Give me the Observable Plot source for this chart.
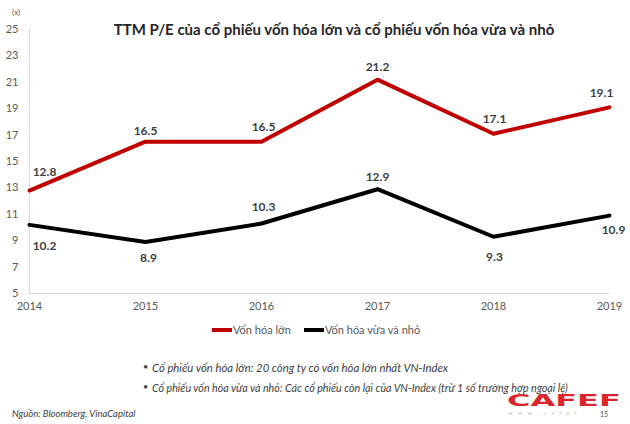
<!DOCTYPE html>
<html>
<head>
<meta charset="utf-8">
<script src="https://cdn.jsdelivr.net/npm/d3@7"></script>
<script src="https://cdn.jsdelivr.net/npm/@observablehq/plot@0.6"></script>
<style>
  html, body { margin: 0; padding: 0; background: #fff; }
  #wrap { position: relative; width: 630px; height: 424px; overflow: hidden; font-family: Lato, "Open Sans", sans-serif; }
  #chart { position: absolute; left: 0; top: 0; }
  .abs { position: absolute; white-space: nowrap; }
  #title { left: 0; width: 668px; top: 20px; text-align: center; font-weight: bold; font-size: 15px; color: #262626; }
  #unit { left: 12px; top: 7px; font-size: 8px; color: #595959; }
  #legend { top: 323px; left: 212px; font-size: 11px; color: #595959; display: flex; align-items: center; }
  .sw { display: inline-block; width: 20px; height: 4px; margin-right: 1px; }
  .note { font-style: italic; font-size: 11px; line-height: 13px; color: #404040; }
  .bul { position: absolute; font-size: 9px; line-height: 11px; color: #404040; }
  #logo { left: 507px; top: 394px; font-family: "DejaVu Sans", sans-serif; font-weight: bold; font-size: 16px; line-height: 14px; color: #d9252b; transform: scaleX(2); transform-origin: left top; }
  #www { left: 508px; top: 409px; font-size: 6px; line-height: 7px; color: #c8c8c8; letter-spacing: 5px; }
  #page { left: 600px; top: 410px; font-size: 7px; line-height: 8px; color: #595959; }
</style>
</head>
<body>
<div id="wrap">
  <div id="chart"></div>
  <div id="unit" class="abs">(x)</div>
  <div id="title" class="abs">TTM P/E của cổ phiếu vốn hóa lớn và cổ phiếu vốn hóa vừa và nhỏ</div>
  <div id="legend" class="abs"></div>
  <div class="bul" style="left:143px; top:361px;">•</div>
  <div class="abs note" style="left:152px; top:361px; font-size:11.3px;">Cổ phiếu vốn hóa lớn: 20 công ty có vốn hóa lớn nhất VN-Index</div>
  <div class="bul" style="left:143px; top:381px;">•</div>
  <div class="abs note" style="left:152px; top:381px; font-size:10.7px;">Cổ phiếu vốn hóa vừa và nhỏ: Các cổ phiếu còn lại của VN-Index (trừ 1 số trường hợp ngoại lệ)</div>
  <div class="abs note" style="left:12px; top:407px; font-size:9.5px;">Nguồn: Bloomberg, VinaCapital</div>
  <div id="logo" class="abs">CAFEF</div>
  <div id="www" class="abs">www.cafef</div>
  <div id="page" class="abs">15</div>
</div>
<script>
const years = ["2014", "2015", "2016", "2017", "2018", "2019"];
const largeCap = [12.8, 16.5, 16.5, 21.2, 17.1, 19.1];
const smallMidCap = [10.2, 8.9, 10.3, 12.9, 9.3, 10.9];
const seriesNames = ["Vốn hóa lớn", "Vốn hóa vừa và nhỏ"];
const yTicks = [5, 7, 9, 11, 13, 15, 17, 19, 21, 23, 25];

const colors = ["#c00000", "#000000"];
const data = [];
years.forEach((y, i) => {
  data.push({year: y, value: largeCap[i], series: seriesNames[0], i});
  data.push({year: y, value: smallMidCap[i], series: seriesNames[1], i});
});

// label placement (dx, dy) per series, per year index
const place = {
  [seriesNames[0]]: [[15, -18], [0, -11], [2, -15], [0, -13], [1, -15], [-8, -14]],
  [seriesNames[1]]: [[15, 21], [3, 16], [2, -16], [0, -12], [1, 20], [4, 15]]
};
const labelMarks = [];
for (const s of seriesNames) {
  place[s].forEach(([dx, dy], idx) => {
    labelMarks.push(Plot.text(data.filter(d => d.series === s && d.i === idx), {
      x: "year", y: "value", text: d => d.value.toFixed(1),
      dx, dy, fontWeight: "bold", fontSize: 12, fill: "#404040"
    }));
  });
}

const chart = Plot.plot({
  width: 630, height: 318,
  marginTop: 29, marginBottom: 25, marginLeft: 28, marginRight: 21,
  style: {fontFamily: "Lato, 'Open Sans', sans-serif", fontSize: "11px", color: "#595959", background: "transparent"},
  x: {type: "point", domain: years, padding: 0, label: null},
  y: {domain: [5, 25], label: null},
  color: {domain: seriesNames, range: colors},
  marks: [
    Plot.ruleX([years[0]], {stroke: "#d9d9d9", strokeWidth: 1}),
    Plot.ruleY([5], {stroke: "#d9d9d9", strokeWidth: 1}),
    Plot.axisY({ticks: yTicks, tickSize: 0, tickPadding: 10, label: null}),
    Plot.axisX({tickSize: 0, tickPadding: 9, label: null}),
    Plot.line(data, {x: "year", y: "value", z: "series", stroke: "series", strokeWidth: 4}),
    ...labelMarks
  ]
});
document.getElementById("chart").appendChild(chart);

const legend = document.getElementById("legend");
seriesNames.forEach((s, i) => {
  const item = document.createElement("span");
  item.style.display = "inline-flex";
  item.style.alignItems = "center";
  item.style.marginRight = "13px";
  item.innerHTML = `<span class="sw" style="background:${colors[i]}"></span>${s}`;
  legend.appendChild(item);
});
</script>
</body>
</html>
